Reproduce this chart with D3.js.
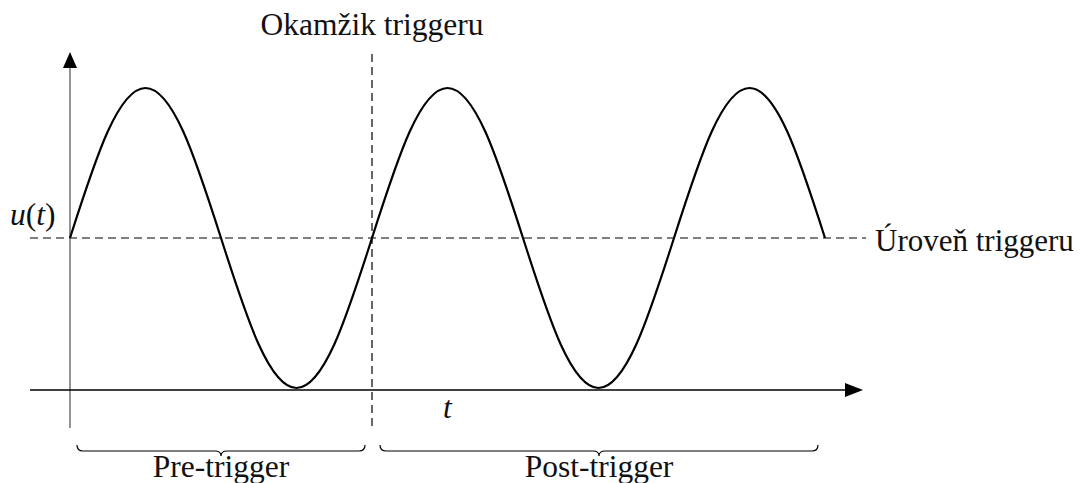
<!DOCTYPE html>
<html>
<head>
<meta charset="utf-8">
<script src="https://cdn.jsdelivr.net/npm/d3@7"></script>
<style>
  html, body { margin: 0; padding: 0; background: #fff; }
  svg { display: block; }
</style>
</head>
<body>
<svg id="chart" width="1081" height="483"></svg>
<script>
// phase of the signal (degrees) and normalised amplitude
const phaseDeg = [0, 45, 90, 135, 180, 225, 270, 315, 360, 405, 450, 495, 540, 585, 630, 675, 720, 765, 810, 855, 900];
const amplitude = [0, 0.71, 1, 0.71, 0, -0.71, -1, -0.71, 0, 0.71, 1, 0.71, 0, -0.71, -1, -0.71, 0, 0.71, 1, 0.71, 0];
const triggerPhase = 360;
const triggerLevel = 0;
const labels = {
  trigTime: "Okamžik triggeru",
  trigLevel: "Úroveň triggeru",
  pre: "Pre-trigger",
  post: "Post-trigger"
};

const FONT = "'Liberation Serif', 'DejaVu Serif', serif";
const FS = 31.5;
const svg = d3.select("#chart");
const x = d3.scaleLinear().domain([0, 900]).range([70, 825]);
const y = d3.scaleLinear().domain([-1, 1]).range([388, 88]);

const axisY = y(-1) + 2;   // horizontal time axis
const x0 = x(0);           // vertical u axis

// dashed trigger level line
svg.append("line")
  .attr("x1", 30).attr("x2", 866)
  .attr("y1", y(triggerLevel)).attr("y2", y(triggerLevel))
  .attr("stroke", "#000").attr("stroke-width", 1.2)
  .attr("stroke-dasharray", "8,5");

// dashed trigger time line
svg.append("line")
  .attr("x1", x(triggerPhase)).attr("x2", x(triggerPhase))
  .attr("y1", 54).attr("y2", 428)
  .attr("stroke", "#000").attr("stroke-width", 1.2)
  .attr("stroke-dasharray", "8,5");

// vertical axis (gray) + arrow
svg.append("line")
  .attr("x1", x0).attr("x2", x0)
  .attr("y1", 428).attr("y2", 66)
  .attr("stroke", "#666").attr("stroke-width", 1.4);
svg.append("path")
  .attr("d", `M${x0},52 L${x0 - 7},68 L${x0 + 7},68 Z`)
  .attr("fill", "#000");

// horizontal axis + arrow
svg.append("line")
  .attr("x1", 30).attr("x2", 847)
  .attr("y1", axisY).attr("y2", axisY)
  .attr("stroke", "#000").attr("stroke-width", 1.3);
svg.append("path")
  .attr("d", `M863,${axisY} L845,${axisY - 7} L845,${axisY + 7} Z`)
  .attr("fill", "#000");

// signal
const line = d3.line()
  .x((d, i) => x(phaseDeg[i]))
  .y(d => y(d))
  .curve(d3.curveNatural);
svg.append("path")
  .datum(amplitude)
  .attr("d", line)
  .attr("fill", "none")
  .attr("stroke", "#000")
  .attr("stroke-width", 2.2);

// braces
function brace(xa, xb, y0, y1, y2) {
  const m = (xa + xb) / 2, r = 6;
  return `M${xa},${y0} Q${xa},${y1} ${xa + r},${y1} L${m - r},${y1} Q${m},${y1} ${m},${y2} ` +
         `Q${m},${y1} ${m + r},${y1} L${xb - r},${y1} Q${xb},${y1} ${xb},${y0}`;
}
const braces = [
  { a: x(0) + 7, b: x(triggerPhase) - 7, label: labels.pre },
  { a: x(triggerPhase) + 8, b: x(900) - 7, label: labels.post }
];
braces.forEach(bd => {
  svg.append("path")
    .attr("d", brace(bd.a, bd.b, 445, 451, 456))
    .attr("fill", "none").attr("stroke", "#000").attr("stroke-width", 1.2);
  svg.append("text")
    .attr("x", (bd.a + bd.b) / 2).attr("y", 477)
    .attr("text-anchor", "middle")
    .attr("font-family", FONT).attr("font-size", FS).attr("fill", "#111")
    .text(bd.label);
});

// labels
svg.append("text")
  .attr("x", x(triggerPhase)).attr("y", 35)
  .attr("text-anchor", "middle")
  .attr("font-family", FONT).attr("font-size", FS).attr("fill", "#111")
  .text(labels.trigTime);

svg.append("text")
  .attr("x", 875).attr("y", 251)
  .attr("font-family", FONT).attr("font-size", FS - 0.5).attr("fill", "#111")
  .text(labels.trigLevel);

const ut = svg.append("text").attr("x", 10).attr("y", 225)
  .attr("font-family", FONT).attr("font-size", FS).attr("fill", "#111");
ut.append("tspan").attr("font-style", "italic").text("u");
ut.append("tspan").text("(");
ut.append("tspan").attr("font-style", "italic").text("t");
ut.append("tspan").text(")");

svg.append("text")
  .attr("x", 443).attr("y", 418)
  .attr("font-family", FONT).attr("font-size", FS).attr("font-style", "italic").attr("fill", "#111")
  .text("t");
</script>
</body>
</html>
